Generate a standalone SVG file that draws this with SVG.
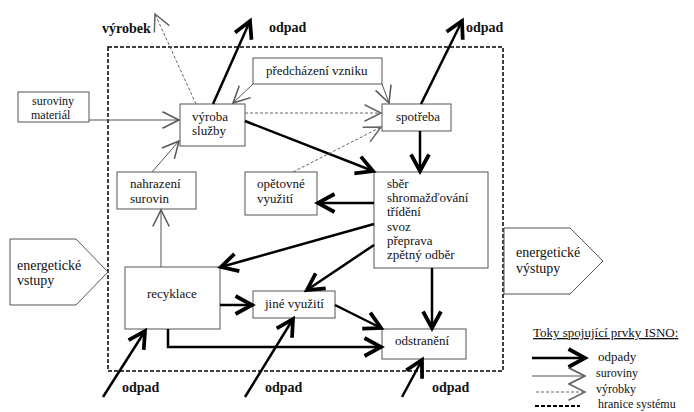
<svg xmlns="http://www.w3.org/2000/svg" width="694" height="412" viewBox="0 0 694 412">
  <defs>
    <style>
      .box { fill: #fff; stroke: #555; stroke-width: 1; }
      text { font-family: 'Liberation Serif', 'Tinos', 'DejaVu Serif', serif; }
      .t { font-size: 13px; fill: #111; }
      .sm { font-size: 12px; }
      .big { font-size: 14px; }
      .lbl { font-size: 14px; font-weight: bold; fill: #111; }
      .waste { stroke: #000; stroke-width: 2.5; fill: none; marker-end: url(#hWaste); }
      .raw { stroke: #555; stroke-width: 1; fill: none; marker-end: url(#hRaw); }
      .prod { stroke: #666; stroke-width: 1; stroke-dasharray: 3 2; fill: none; marker-end: url(#hProd); }
      .bound { stroke: #000; stroke-width: 1.5; stroke-dasharray: 4 2; fill: none; }
    </style>
    <marker id="hWaste" markerUnits="userSpaceOnUse" markerWidth="30" markerHeight="30" viewBox="-14 -10 16 20" refX="0" refY="0" orient="auto" overflow="visible">
      <path d="M-11,-6 L0,0 L-11,6" fill="none" stroke="#000" stroke-width="2.5"/>
    </marker>
    <marker id="hRaw" markerUnits="userSpaceOnUse" markerWidth="30" markerHeight="30" viewBox="-14 -10 16 20" refX="0" refY="0" orient="auto" overflow="visible">
      <path d="M-11,-5.5 L0,0 L-11,5.5" fill="none" stroke="#555" stroke-width="1"/>
    </marker>
    <marker id="hProd" markerUnits="userSpaceOnUse" markerWidth="30" markerHeight="30" viewBox="-14 -10 16 20" refX="0" refY="0" orient="auto" overflow="visible">
      <path d="M-11,-5.5 L0,0 L-11,5.5" fill="none" stroke="#666" stroke-width="1"/>
    </marker>
  </defs>

  <rect width="694" height="412" fill="#fff"/>

  <!-- system boundary -->
  <rect class="bound" x="108" y="47" width="395" height="324"/>

  <!-- energy inputs / outputs -->
  <g id="energy-in">
    <polygon class="box" points="10,239 76,239 108,272 76,305 10,305"/>
    <text class="t big" x="17" y="270">energetické</text>
    <text class="t big" x="17" y="285">vstupy</text>
  </g>
  <g id="energy-out">
    <polygon class="box" points="504,228 570,228 603,261 570,294 504,294"/>
    <text class="t big" x="516" y="257">energetické</text>
    <text class="t big" x="516" y="273">výstupy</text>
  </g>

  <!-- nodes -->
  <g id="suroviny">
    <rect class="box" x="18" y="92" width="71" height="30"/>
    <text class="t sm" x="32" y="105">suroviny</text>
    <text class="t sm" x="31" y="119">materiál</text>
  </g>
  <g id="vyroba">
    <rect class="box" x="180" y="104" width="65" height="42"/>
    <text class="t" x="192" y="121">výroba</text>
    <text class="t" x="192" y="135">služby</text>
  </g>
  <g id="predchazeni">
    <rect class="box" x="253" y="58" width="129" height="26"/>
    <text class="t" x="266" y="75">předcházení vzniku</text>
  </g>
  <g id="spotreba">
    <rect class="box" x="382" y="104" width="69" height="27"/>
    <text class="t" x="396" y="121">spotřeba</text>
  </g>
  <g id="nahrazeni">
    <rect class="box" x="117" y="172" width="79" height="37"/>
    <text class="t" x="130" y="188">nahrazení</text>
    <text class="t" x="130" y="203">surovin</text>
  </g>
  <g id="opetovne">
    <rect class="box" x="245" y="172" width="72" height="43"/>
    <text class="t" x="257" y="188">opětovné</text>
    <text class="t" x="257" y="203">využití</text>
  </g>
  <g id="sber">
    <rect class="box" x="374" y="172" width="114" height="96"/>
    <text class="t" x="387" y="188">sběr</text>
    <text class="t" x="387" y="202">shromažďování</text>
    <text class="t" x="387" y="216">třídění</text>
    <text class="t" x="387" y="231">svoz</text>
    <text class="t" x="387" y="245">přeprava</text>
    <text class="t" x="387" y="259">zpětný odběr</text>
  </g>
  <g id="recyklace">
    <rect class="box" x="125" y="267" width="95" height="62"/>
    <text class="t" x="147" y="298">recyklace</text>
  </g>
  <g id="jine">
    <rect class="box" x="253" y="291" width="82" height="27"/>
    <text class="t" x="265" y="308">jiné využití</text>
  </g>
  <g id="odstraneni">
    <rect class="box" x="382" y="329" width="84" height="30"/>
    <text class="t" x="395" y="345">odstranění</text>
  </g>

  <!-- outside labels -->
  <text class="lbl" x="102" y="33">výrobek</text>
  <text class="lbl" x="269" y="32">odpad</text>
  <text class="lbl" x="466" y="32">odpad</text>
  <text class="lbl" x="122" y="392">odpad</text>
  <text class="lbl" x="265" y="392">odpad</text>
  <text class="lbl" x="432" y="392">odpad</text>

  <!-- connectors -->
  <g id="connectors">
    <!-- waste flows -->
    <line class="waste" x1="213" y1="104" x2="250" y2="21"/>
    <line class="waste" x1="421" y1="104" x2="462" y2="21"/>
    <line class="waste" x1="245" y1="121" x2="373" y2="171"/>
    <line class="waste" x1="420" y1="131" x2="420" y2="171"/>
    <line class="waste" x1="374" y1="203" x2="318" y2="203"/>
    <line class="waste" x1="374" y1="224" x2="221" y2="267"/>
    <line class="waste" x1="374" y1="245" x2="307" y2="290"/>
    <line class="waste" x1="432" y1="268" x2="432" y2="328"/>
    <line class="waste" x1="220" y1="305" x2="252" y2="305"/>
    <line class="waste" x1="335" y1="305" x2="381" y2="328"/>
    <polyline class="waste" points="168,329 168,347 381,347"/>
    <line class="waste" x1="103" y1="397" x2="145" y2="331"/>
    <line class="waste" x1="245" y1="397" x2="293" y2="319"/>
    <line class="waste" x1="402" y1="397" x2="422" y2="360"/>

    <!-- raw material flows -->
    <line class="raw" x1="89" y1="120" x2="179" y2="120"/>
    <line class="raw" x1="152" y1="172" x2="179" y2="141"/>
    <line class="raw" x1="161" y1="267" x2="161" y2="210"/>
    <line class="raw" x1="253" y1="84" x2="233" y2="103"/>
    <line class="raw" x1="382" y1="84" x2="389" y2="103"/>

    <!-- product flows -->
    <line class="prod" x1="196" y1="104" x2="155" y2="14"/>
    <line class="prod" x1="245" y1="113" x2="381" y2="113"/>
    <line class="prod" x1="293" y1="172" x2="381" y2="127"/>
  </g>

  <!-- legend -->
  <g id="legend">
    <text class="t" x="533" y="337" text-decoration="underline">Toky spojující prvky ISNO:</text>
    <line class="waste" x1="532" y1="358" x2="585" y2="358"/>
    <text class="t" x="598" y="361">odpady</text>
    <line class="raw" x1="532" y1="376" x2="585" y2="376"/>
    <text class="t sm" x="596" y="377">suroviny</text>
    <line class="prod" x1="536" y1="392" x2="585" y2="392"/>
    <text class="t sm" x="596" y="393">výrobky</text>
    <line x1="535" y1="406" x2="580" y2="406" stroke="#000" stroke-width="2" stroke-dasharray="4 2"/>
    <text class="t sm" x="598" y="408">hranice systému</text>
  </g>
</svg>
